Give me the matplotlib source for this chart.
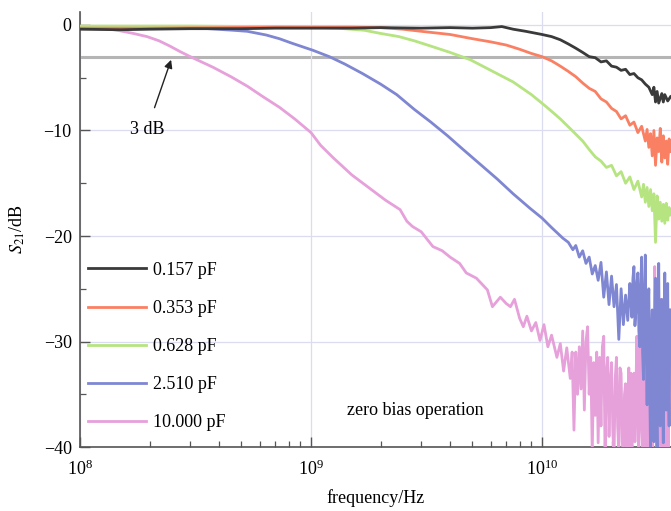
import numpy as np
import matplotlib
matplotlib.use('Agg')
import matplotlib.pyplot as plt

plt.rcParams['font.family'] = ['Liberation Serif', 'DejaVu Serif']
plt.rcParams['mathtext.fontset'] = 'stix'
plt.rcParams['font.size'] = 13

# capacitance of each trace (legend)
labels = ['0.157 pF', '0.353 pF', '0.628 pF', '2.510 pF', '10.000 pF']
colors = ['#3a3a3a', '#fa8064', '#b6e480', '#7f86d2', '#e6a0da']

# frequency in GHz, S21 in dB
f_black = [0.1, 0.15, 0.2, 0.3, 0.5, 0.7, 1.0, 1.5, 2.0, 3.0, 4.0, 5.0, 6.0, 6.7, 7.5, 8.5,
           10, 11, 12, 13, 14, 15, 16, 17, 18, 19, 20, 21, 22, 23, 24, 25, 26, 27, 28, 29,
           30, 30.5, 31, 31.5, 32, 33, 33.5, 34, 35, 36]
s_black = [-0.4, -0.45, -0.4, -0.35, -0.35, -0.3, -0.3, -0.3, -0.25, -0.3, -0.25, -0.3, -0.25, -0.15, -0.4, -0.6,
           -0.9, -1.1, -1.4, -1.8, -2.2, -2.6, -3.0, -3.1, -3.5, -3.4, -3.9, -4.0, -4.3, -4.2, -4.7, -4.6, -5.0, -5.2, -5.6, -5.9,
           -6.6, -5.9, -7.3, -6.3, -7.4, -6.5, -7.3, -6.6, -7.2, -6.8]

f_red = [0.1, 0.2, 0.4, 0.7, 1.0, 1.5, 2.0, 2.5, 3.0,
         4, 5, 6, 7, 8, 9, 10, 11, 12, 13, 14, 15, 16, 17, 18, 19, 20, 21, 22, 23, 24, 25, 26, 27, 28,
         28.5, 29, 29.5, 30, 30.5, 31, 31.5, 32, 32.5, 33, 33.5, 34, 34.5, 35, 35.5, 36]
s_red = [-0.3, -0.3, -0.25, -0.2, -0.2, -0.2, -0.25, -0.4, -0.6,
         -0.9, -1.3, -1.6, -1.9, -2.3, -2.7, -3.0, -3.4, -3.9, -4.4, -4.9, -5.5, -6.0, -6.3, -7.0, -7.3, -7.9, -8.2,
         -8.9, -8.6, -9.5, -9.2, -10.2, -9.6, -11.0,
         -9.9, -11.6, -10.3, -12.4, -10.0, -13.3, -10.7, -12.0, -9.8, -13.0, -10.5, -12.6, -11.0, -13.2, -10.8, -12.0]

f_green = [0.1, 0.3, 0.6, 1.0, 1.3, 1.7, 2.0, 2.4, 2.8, 3.3, 4.0, 4.9, 6.0, 7.5, 9.0, 10.5, 12, 13.5, 15,
           16, 17, 18, 19, 20, 21, 22, 23, 24, 25, 26, 27,
           27.5, 28, 28.5, 29, 29.5, 30, 30.5, 31, 31.5, 32, 32.5, 33, 33.5, 34, 34.5, 35, 35.5, 36]
s_green = [-0.1, -0.1, -0.15, -0.2, -0.3, -0.5, -0.8, -1.1, -1.5, -2.0, -2.6, -3.3, -4.3, -5.4, -6.6, -7.8, -8.9, -10.0, -11.0,
           -11.8, -12.5, -12.9, -13.5, -13.3, -14.3, -13.9, -15.0, -14.4, -15.6, -14.8, -16.3,
           -15.1, -16.8, -15.4, -17.2, -15.6, -17.6, -16.0, -20.6, -16.2, -18.4, -16.8, -18.6, -17.0, -18.8, -16.9, -18.5, -17.3, -18.0]

f_blue = [0.1, 0.2, 0.33, 0.46, 0.53, 0.64, 0.73, 0.82, 0.9, 1.02, 1.2,
          1.4, 1.67, 2.0, 2.35, 2.8, 3.3, 3.9, 4.5, 5.4, 6.4, 7.5, 8.9, 10, 11, 12.3, 13, 13.6, 14,
          14.5, 15, 15.5, 16, 16.5, 17, 17.5, 18, 18.5, 19, 19.5, 20, 20.5, 21, 21.5, 22, 22.5, 23, 23.5, 24,
          24.25, 24.5, 24.75, 25.0, 25.25, 25.5, 25.75, 26.0,
          26.25, 26.5, 26.75, 27.0, 27.25, 27.5, 27.75, 28.0,
          28.25, 28.5, 28.75, 29.0, 29.25, 29.5, 29.75, 30.0,
          30.25, 30.5, 30.75, 31.0, 31.25, 31.5, 31.75, 32.0,
          32.25, 32.5, 32.75, 33.0, 33.25, 33.5, 33.75, 34.0,
          34.25, 34.5, 34.75, 35.0, 35.25, 35.5, 35.75, 36.0]
s_blue = [-0.3, -0.3, -0.3, -0.5, -0.6, -0.95, -1.3, -1.7, -2.0, -2.4, -3.0,
          -3.7, -4.6, -5.6, -6.6, -8.0, -9.2, -10.5, -11.7, -13.2, -14.6, -16.0, -17.4, -18.3, -19.2, -20.2, -20.6, -21.3, -20.9,
          -22.0, -21.4, -22.6, -22.0, -23.6, -22.8, -24.2, -22.5, -25.8, -23.4, -26.5, -23.8, -26.7, -24.6, -29.8,
          -25.0, -28.4, -25.6, -28.0, -24.5,
          -26.0, -27.7, -24.0, -22.9, -28.5, -27.0, -24.5, -23.5,
          -29.0, -30.5, -25.0, -22.0, -31.0, -33.6, -26.0, -21.8,
          -30.0, -36.0, -27.5, -25.0, -34.0, -40.5, -30.0, -27.0,
          -37.0, -39.5, -28.0, -24.0, -36.0, -40.5, -29.5, -22.6,
          -33.0, -38.0, -30.0, -26.0, -35.0, -39.6, -28.5, -23.5,
          -32.0, -36.5, -27.0, -24.5, -34.0, -38.0, -29.0, -27.0]

f_pink = [0.1, 0.12, 0.135, 0.149, 0.17, 0.195, 0.22, 0.245, 0.27, 0.3, 0.376, 0.45, 0.53, 0.62, 0.73, 0.85,
          1.0, 1.1, 1.25, 1.5, 1.75, 2.1, 2.43, 2.6, 2.75, 3.0,
          3.37, 3.7, 4.0, 4.4, 4.7, 5.2, 5.8, 6.1, 6.6, 7.0,
          7.3, 7.6, 8.0, 8.3, 8.6, 9.0, 9.4, 9.8, 10.2, 10.6,
          11.0, 11.6, 12.0, 12.4, 12.8,
          13.25, 13.5, 13.75, 14.0, 14.25, 14.5, 14.75, 15.0,
          15.25, 15.5, 15.75, 16.0, 16.25, 16.5, 16.75, 17.0,
          17.25, 17.5, 17.75, 18.0, 18.25, 18.5, 18.75, 19.0,
          19.25, 19.5, 19.75, 20.0, 20.25, 20.5, 20.75, 21.0,
          21.25, 21.5, 21.75, 22.0, 22.25, 22.5, 22.75, 23.0,
          23.25, 23.5, 23.75, 24.0, 24.25, 24.5, 24.75, 25.0,
          25.25, 25.5, 25.75, 26.0, 26.25, 26.5, 26.75, 27.0,
          27.25, 27.5, 27.75, 28.0, 28.25, 28.5, 28.75, 29.0,
          29.25, 29.5, 29.75, 30.0, 30.25, 30.5, 30.75, 31.0,
          31.25, 31.5, 31.75, 32.0, 32.25, 32.5, 32.75, 33.0,
          33.25, 33.5, 33.75, 34.0, 34.25, 34.5, 34.75, 35.0,
          35.25, 35.5, 35.75, 36.0]
s_pink = [-0.35, -0.35, -0.4, -0.55, -0.8, -1.1, -1.5, -2.0, -2.5, -3.0, -4.0, -4.9, -5.8, -6.8, -7.8, -8.9,
          -10.2, -11.4, -12.6, -14.2, -15.3, -16.6, -17.5, -18.6, -19.1, -19.6,
          -21.0, -21.4, -22.0, -22.6, -23.5, -24.0, -25.1, -26.7, -25.8, -26.4,
          -26.7, -26.0, -27.8, -28.6, -27.6, -29.0, -28.2, -29.9, -28.4, -30.5,
          -29.4, -31.5, -30.2, -32.8, -30.6,
          -33.5, -31.0, -38.4, -31.0, -35.0, -30.5, -34.5, -29.0,
          -36.5, -30.0, -28.6, -35.0, -31.5, -40.5, -32.0, -37.0,
          -31.0, -39.6, -31.5, -38.0, -30.5, -29.5, -41.0, -33.0,
          -31.5, -39.0, -34.0, -32.0, -38.5, -41.0, -33.5, -31.5,
          -38.0, -40.5, -32.5, -33.0, -39.5, -41.0, -35.0, -34.0,
          -40.0, -36.5, -32.5, -41.0, -33.0, -41.0, -35.5, -33.0,
          -39.5, -34.5, -29.5, -37.0, -41.0, -31.0, -29.0, -38.0,
          -40.0, -33.0, -41.0, -32.0, -36.0, -41.0, -29.0, -33.0,
          -41.0, -37.0, -31.0, -40.0, -38.0, -34.0, -22.9, -30.0,
          -41.0, -36.0, -28.0, -40.0, -33.0, -26.0, -41.0, -35.0,
          -27.0, -39.0, -41.0, -30.0, -36.0, -41.0, -33.0, -38.0,
          -41.0, -30.0, -37.0, -33.0]

freqs = [f_black, f_red, f_green, f_blue, f_pink]
s21s = [s_black, s_red, s_green, s_blue, s_pink]

fig = plt.figure(figsize=(6.71, 5.11), dpi=100)
ax = fig.add_axes([0.1192, 0.1252, 0.8808, 0.8513])

# 3 dB reference line
ax.axhline(-3, color='#b5b5b5', lw=2.2, zorder=1.5)

lines = []
for i, (f, s) in enumerate(zip(freqs, s21s)):
    ln, = ax.plot(np.array(f) * 1e9, s, color=colors[i], lw=2.0, label=labels[i], zorder=3 + (5 - i) * 0.1)
    lines.append(ln)

ax.set_xscale('log')
ax.set_xlim(1e8, 3.617e10)
ax.set_ylim(-40, 1.23)
ax.set_yticks([-40, -30, -20, -10, 0])
ax.set_yticks(np.arange(-35, 0, 10), minor=True)

ax.grid(True, which='major', color='#dcdcf0', lw=0.9, zorder=0)
for side in ['top', 'right']:
    ax.spines[side].set_visible(False)
for side in ['left', 'bottom']:
    ax.spines[side].set_color('#555555')
    ax.spines[side].set_linewidth(1.2)

ax.tick_params(which='major', direction='in', length=7, width=1.0, color='#555555', labelsize=13, pad=6)
ax.tick_params(which='minor', direction='in', length=4, width=0.9, color='#555555')
ax.tick_params(axis='x', which='major', pad=9)

ax.set_xlabel('frequency/Hz', fontsize=13, labelpad=7)
ax.set_ylabel(r'$S_{\mathrm{21}}$/dB', fontsize=13, labelpad=12)

ax.annotate('3 dB', xy=(2.48e8, -3.3), xytext=(1.95e8, -9.9),
            ha='center', va='center', fontsize=13,
            arrowprops=dict(arrowstyle='-|>', color='#222222', lw=1.0, shrinkA=8, shrinkB=0,
                            mutation_scale=12))

ax.text(2.82e9, -36.5, 'zero bias operation', ha='center', va='center', fontsize=13)

ax.legend(handles=lines, loc='upper left', bbox_to_anchor=(0.0135, 0.426), frameon=False,
          borderpad=0, borderaxespad=0, handlelength=3.2, handletextpad=0.4, labelspacing=1.17,
          fontsize=13)

fig.savefig('out.png', dpi=100)
